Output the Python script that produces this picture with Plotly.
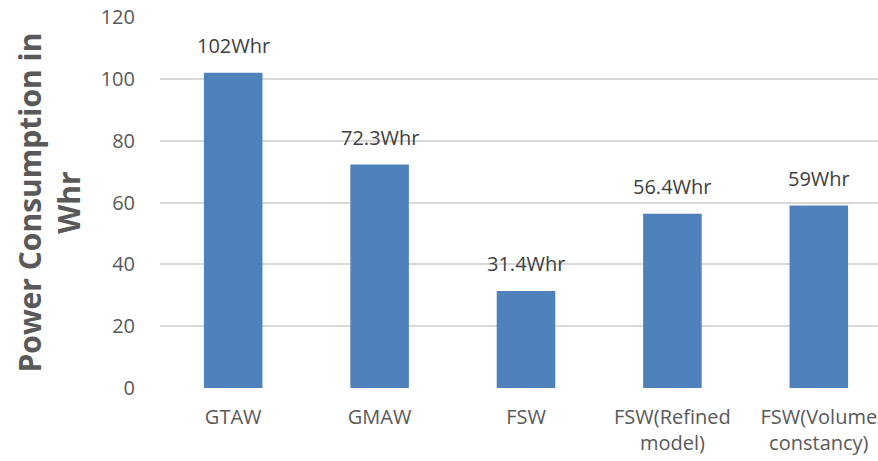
import plotly.graph_objects as go

# Welding process power consumption
categories = ["GTAW", "GMAW", "FSW", "FSW(Refined<br>model)", "FSW(Volume<br>constancy)"]
power_whr = [102, 72.3, 31.4, 56.4, 59]
value_labels = [f"{v:g}Whr" for v in power_whr]
y_ticks = [0, 20, 40, 60, 80, 100, 120]

BAR_COLOR = "#4F81BD"
GRID_COLOR = "#D9D9D9"
FONT = "Open Sans"

W, H = 878, 461
ML, MR, MT, MB = 160, 0, 17, 73
slot_px = 146.4  # width of one category slot
plot_w = W - ML - MR
x_max = -0.5 + plot_w / slot_px

x_idx = list(range(len(categories)))

fig = go.Figure()
fig.add_trace(go.Bar(
    x=x_idx,
    y=power_whr,
    marker=dict(color=BAR_COLOR, line=dict(width=0)),
    width=0.4,
    hoverinfo="skip",
))

# Value labels above each bar
for i, (v, txt) in enumerate(zip(power_whr, value_labels)):
    fig.add_annotation(
        x=i, y=v, xref="x", yref="y",
        text=txt, showarrow=False,
        yanchor="middle", yshift=27,
        font=dict(family=FONT, size=20, color="#404040"),
    )

# Rotated two-line axis title
fig.add_annotation(
    xref="paper", yref="paper",
    x=(48 - ML) / plot_w, y=0.5,
    xanchor="center", yanchor="middle",
    text="<b>Power Consumption in<br>Whr</b>",
    textangle=-90, showarrow=False,
    font=dict(family=FONT, size=30, color="#595959"),
)

fig.update_layout(
    width=W, height=H,
    margin=dict(l=ML, r=MR, t=MT, b=MB, pad=0),
    paper_bgcolor="white", plot_bgcolor="white",
    showlegend=False,
    font=dict(family=FONT, size=20, color="#595959"),
    xaxis=dict(
        tickmode="array", tickvals=x_idx, ticktext=categories,
        range=[-0.5, x_max],
        showgrid=False, zeroline=False, showline=False,
        ticks="", ticklabelstandoff=15,
        tickfont=dict(family=FONT, size=20, color="#595959"),
    ),
    yaxis=dict(
        range=[0, 120], tickvals=y_ticks,
        showgrid=True, gridcolor=GRID_COLOR, gridwidth=1.5,
        zeroline=False, showline=False,
        ticks="", ticklabelstandoff=24,
        tickfont=dict(family=FONT, size=20, color="#595959"),
    ),
)

fig.write_html("out.html")
